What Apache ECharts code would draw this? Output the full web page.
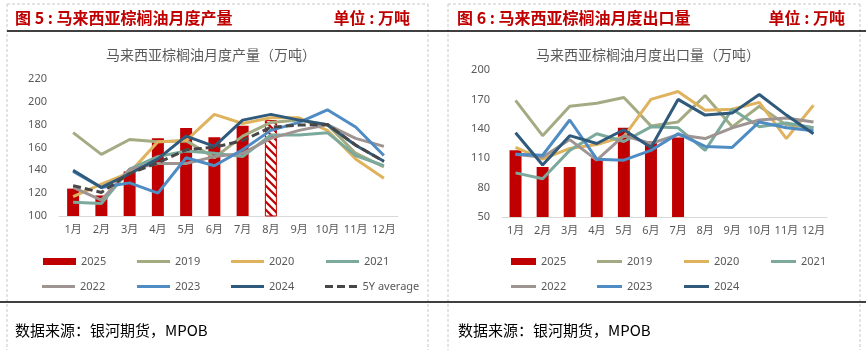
<!DOCTYPE html>
<html>
<head>
<meta charset="utf-8">
<script src="https://cdn.jsdelivr.net/npm/echarts@6/dist/echarts.min.js"></script>
<style>
  html, body { margin: 0; padding: 0; background: #fff; }
  #main { width: 866px; height: 350px; }
</style>
</head>
<body>
<div id="main"></div>
<script>
// 月份
var months = ["1月", "2月", "3月", "4月", "5月", "6月", "7月", "8月", "9月", "10月", "11月", "12月"];

// 图5 产量（万吨）
var prodTicks = [100, 120, 140, 160, 180, 200, 220];
var prod2025 = [124, 118, 139, 168, 177, 169, 179, 184];
var prod2019 = [173, 154, 167, 165, 166, 151, 170, 182, 184, 180, 155, 143];
var prod2020 = [117, 128, 138, 165, 166, 189, 181, 186, 186, 175, 150, 133];
var prod2021 = [112, 111, 141, 152, 157, 155, 152, 171, 171, 173, 153, 144];
var prod2022 = [125, 114, 141, 146, 146, 152, 155, 168, 175, 180, 168, 161];
var prod2023 = [139, 125, 129, 120, 151, 144, 158, 175, 182, 193, 178, 153];
var prod2024 = [140, 125, 137, 150, 170, 161, 184, 189, 184, 180, 162, 148];
var prod5Y = [126.6, 120.6, 137.2, 146.6, 158, 160.2, 166, 177.8, 179.6, 180.2, 162.2, 147.8];

// 图6 出口量（万吨）
var expTicks = [50, 80, 110, 140, 170, 200];
var exp2025 = [118, 101, 101, 110, 141, 127, 131];
var exp2019 = [169, 133, 163, 166, 172, 143, 147, 174, 142, 163, 144, 141];
var exp2020 = [121, 109, 120, 124, 132, 170, 178, 159, 160, 167, 130, 164];
var exp2021 = [95, 89, 118, 135, 127, 142, 141, 118, 160, 142, 146, 141];
var exp2022 = [114, 111, 129, 108, 133, 125, 134, 130, 141, 149, 151, 147];
var exp2023 = [114, 113, 149, 109, 108, 118, 135, 122, 121, 147, 141, 138];
var exp2024 = [136, 103, 133, 125, 139, 121, 170, 154, 156, 175, 154, 135];

var colors = {
  "2025": "#C00000",
  "2019": "#A3AB82",
  "2020": "#DFB35E",
  "2021": "#7BAA9C",
  "2022": "#9E9492",
  "2023": "#4E8CC3",
  "2024": "#2F5A7C",
  "5Y average": "#474747"
};

var gray = "#595959";
var font = "'Noto Sans', 'Noto Sans CJK SC', sans-serif";

// 8月为估计值，斜线填充
function hatchPattern() {
  var c = document.createElement("canvas");
  c.width = 8;
  c.height = 8;
  var g = c.getContext("2d");
  g.fillStyle = "#fff";
  g.fillRect(0, 0, 8, 8);
  g.strokeStyle = "#C00000";
  g.lineWidth = 2.2;
  g.beginPath();
  g.moveTo(-1, -1); g.lineTo(9, 9);
  g.moveTo(-1, 7); g.lineTo(1, 9);
  g.moveTo(7, -1); g.lineTo(9, 1);
  g.stroke();
  return { image: c, repeat: "repeat" };
}

function lineSeries(name, data, idx, dashed) {
  return {
    name: name,
    type: "line",
    xAxisIndex: idx,
    yAxisIndex: idx,
    data: data,
    symbol: "none",
    color: colors[name],
    lineStyle: { width: 3, color: colors[name], type: dashed ? [8, 4] : "solid" },
    z: 3
  };
}

var barProd = prod2025.map(function (v, i) {
  if (i === 7) {
    return { value: v, itemStyle: { color: hatchPattern(), borderColor: "#C00000", borderWidth: 1 } };
  }
  return v;
});

// 图例位置
function legendAt(name, left, y, w) {
  var icon = "rect", h = 3;
  if (name === "2025") h = 7;
  if (name === "5Y average") icon = "path://M0,0h8v3h-8z M12,0h8v3h-8z M24,0h8v3h-8z";
  return {
    data: [name],
    left: left,
    top: y - 7,
    itemWidth: w,
    itemHeight: h,
    icon: icon,
    selectedMode: false,
    textStyle: { color: gray, fontSize: 11, fontFamily: font }
  };
}

var legends = [
  legendAt("2025", 38, 258, 33),
  legendAt("2019", 132, 258, 33),
  legendAt("2020", 226, 258, 33),
  legendAt("2021", 321, 258, 33),
  legendAt("2022", 37, 283, 33),
  legendAt("2023", 132, 283, 33),
  legendAt("2024", 226, 283, 33),
  legendAt("5Y average", 320, 283, 33),
  legendAt("2025", 506, 258, 25),
  legendAt("2019", 592, 258, 25),
  legendAt("2020", 679, 258, 25),
  legendAt("2021", 766, 258, 25),
  legendAt("2022", 506, 283, 25),
  legendAt("2023", 592, 283, 25),
  legendAt("2024", 679, 283, 25)
];

function xAxisCfg(idx) {
  return {
    type: "category",
    gridIndex: idx,
    data: months,
    axisLine: { lineStyle: { color: "#D9D9D9", width: 1 } },
    axisTick: { show: false },
    axisLabel: { color: gray, fontSize: 11, fontFamily: font, margin: 8, interval: 0 }
  };
}

function yAxisCfg(idx, ticks) {
  return {
    type: "value",
    gridIndex: idx,
    min: ticks[0],
    max: ticks[ticks.length - 1],
    interval: ticks[1] - ticks[0],
    axisLine: { show: false },
    axisTick: { show: false },
    splitLine: { show: false },
    axisLabel: { color: gray, fontSize: 11, fontFamily: font, margin: 12 }
  };
}

function vline(x, y1, y2) {
  return {
    type: "line",
    shape: { x1: x, y1: y1, x2: x, y2: y2 },
    style: { stroke: "#C8C8C8", lineWidth: 1, lineDash: [3, 2] },
    silent: true
  };
}
function hline(x1, x2, y, dashed) {
  return {
    type: "line",
    shape: { x1: x1, y1: y, x2: x2, y2: y },
    style: dashed
      ? { stroke: "#C8C8C8", lineWidth: 1, lineDash: [3, 2] }
      : { stroke: "#000", lineWidth: 1.5 },
    silent: true
  };
}
function txt(x, y, text, opt) {
  return {
    type: "text",
    x: x,
    y: y,
    silent: true,
    style: Object.assign({
      text: text,
      textVerticalAlign: "middle",
      verticalAlign: "middle"
    }, opt)
  };
}

var redTitle = { fill: "#C00000", font: "bold 16px 'Noto Sans CJK SC', sans-serif" };
var subTitle = { fill: gray, font: "14px 'Noto Sans CJK SC', sans-serif", align: "center", textAlign: "center" };
var srcText = { fill: "#000", font: "15px 'Noto Sans CJK SC', sans-serif" };

var option = {
  animation: false,
  backgroundColor: "#fff",
  grid: [
    { left: 59, right: 468, top: 79, bottom: 134 },
    { left: 502, right: 39, top: 70, bottom: 133 }
  ],
  legend: legends,
  xAxis: [xAxisCfg(0), xAxisCfg(1)],
  yAxis: [yAxisCfg(0, prodTicks), yAxisCfg(1, expTicks)],
  series: [
    {
      name: "2025",
      type: "bar",
      xAxisIndex: 0,
      yAxisIndex: 0,
      data: barProd,
      barWidth: 12,
      color: colors["2025"],
      itemStyle: { color: colors["2025"] },
      z: 2
    },
    lineSeries("2019", prod2019, 0),
    lineSeries("2020", prod2020, 0),
    lineSeries("2021", prod2021, 0),
    lineSeries("2022", prod2022, 0),
    lineSeries("2023", prod2023, 0),
    lineSeries("2024", prod2024, 0),
    lineSeries("5Y average", prod5Y, 0, true),
    {
      name: "2025",
      type: "bar",
      xAxisIndex: 1,
      yAxisIndex: 1,
      data: exp2025,
      barWidth: 12,
      color: colors["2025"],
      itemStyle: { color: colors["2025"] },
      z: 2
    },
    lineSeries("2019", exp2019, 1),
    lineSeries("2020", exp2020, 1),
    lineSeries("2021", exp2021, 1),
    lineSeries("2022", exp2022, 1),
    lineSeries("2023", exp2023, 1),
    lineSeries("2024", exp2024, 1)
  ],
  graphic: [
    // 虚线边框
    vline(7, 4, 350), vline(428, 4, 350), hline(7, 428, 4, true),
    vline(448, 4, 350), vline(860, 4, 350), hline(448, 860, 4, true),
    // 黑色分隔线
    hline(7, 866, 31), hline(0, 866, 302),
    txt(15, 18, "图 5 : 马来西亚棕榈油月度产量", redTitle),
    txt(410, 18, "单位 : 万吨", Object.assign({ align: "right", textAlign: "right" }, redTitle)),
    txt(457, 18, "图 6 : 马来西亚棕榈油月度出口量", redTitle),
    txt(845, 18, "单位 : 万吨", Object.assign({ align: "right", textAlign: "right" }, redTitle)),
    txt(211, 55, "马来西亚棕榈油月度产量（万吨）", subTitle),
    txt(648, 55, "马来西亚棕榈油月度出口量（万吨）", subTitle),
    txt(15, 330, "数据来源：银河期货，MPOB", srcText),
    txt(458, 330, "数据来源：银河期货，MPOB", srcText)
  ]
};

var chart = echarts.init(document.getElementById("main"));
chart.setOption(option);
</script>
</body>
</html>
